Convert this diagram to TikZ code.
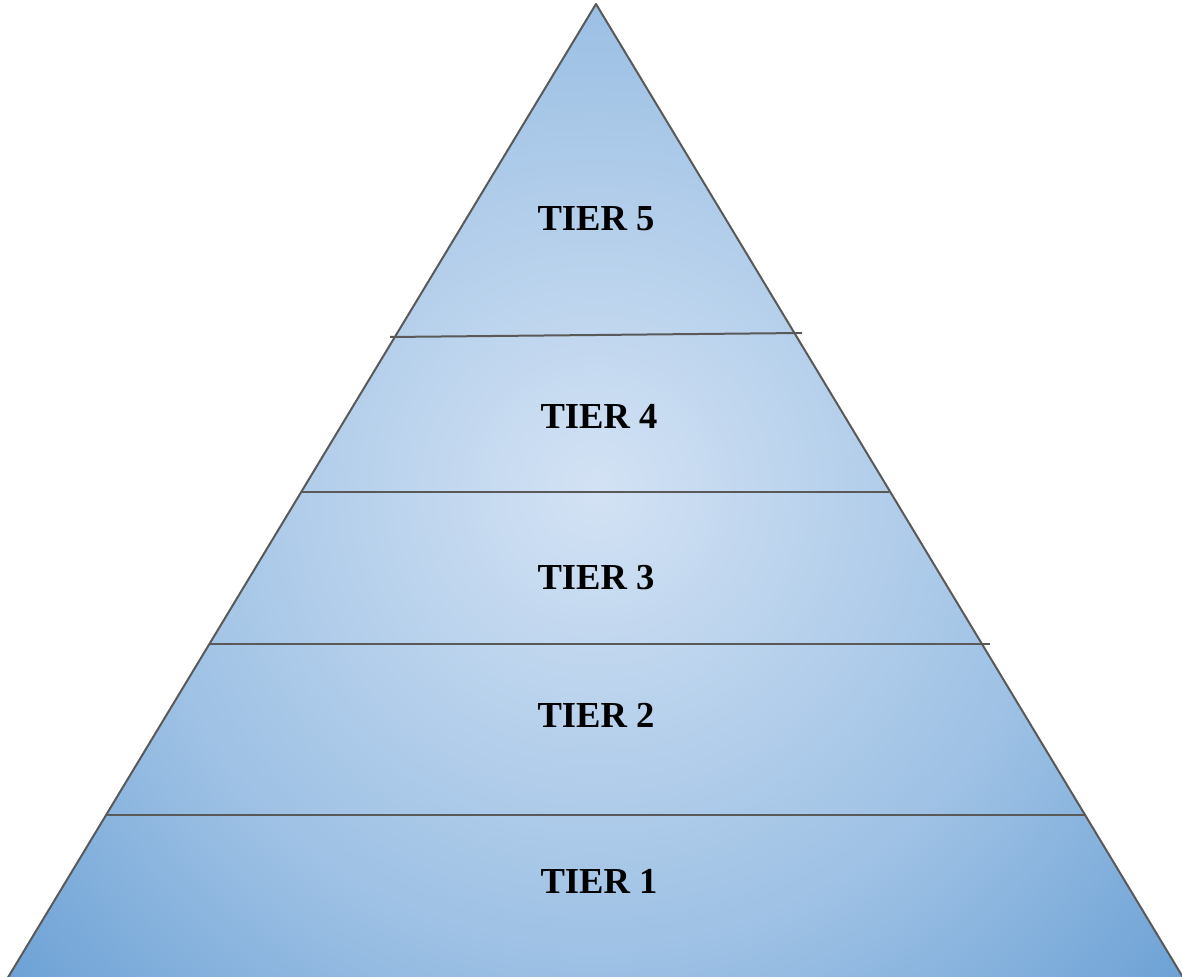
\documentclass[tikz,border=0pt]{standalone}
\usepackage{fontspec}
\setmainfont{Liberation Serif}
\usetikzlibrary{positioning}
\definecolor{tierLight}{HTML}{d3e2f4}
\definecolor{tierMid}{HTML}{9cc0e4}
\definecolor{tierDark}{HTML}{6ca1d5}
\definecolor{edgeGray}{HTML}{595959}
\pgfdeclareradialshading{tiershade}{\pgfpoint{0bp}{0bp}}{color(0bp)=(tierLight); color(15.5bp)=(tierMid); color(25bp)=(tierDark); color(50bp)=(tierDark)}
\begin{document}
\begin{tikzpicture}[x=0.5pt, y=-0.5pt, edge/.style={draw=edgeGray, line width=1pt}, tier/.style={font=\fontsize{18.3}{21}\selectfont\bfseries, text=black, inner sep=0pt}]
\useasboundingbox (0,0) rectangle (1182,977);
\coordinate (apex) at (596,4); \coordinate (bl) at (4,984); \coordinate (br) at (1187,984);
\begin{scope}
\clip (apex) -- (bl) -- (br) -- cycle;
\shade[shading=tiershade] (596,490) circle (770);
\end{scope}
% tier borders
\draw[edge] (390,337) -- (802,333);
\draw[edge] (301,492) -- (889,492);
\draw[edge] (210,644) -- (990,644);
\draw[edge] (106,815) -- (1085,815);
\draw[edge, line join=round] (bl) -- (apex) -- (br);
\node[tier] (t5) at (596,219) {TIER 5};
\node[tier] (t4) at (599,416) {TIER 4};
\node[tier] (t3) at (596,578) {TIER 3};
\node[tier] (t2) at (596,715) {TIER 2};
\node[tier] (t1) at (599,881) {TIER 1};
\end{tikzpicture}
\end{document}
